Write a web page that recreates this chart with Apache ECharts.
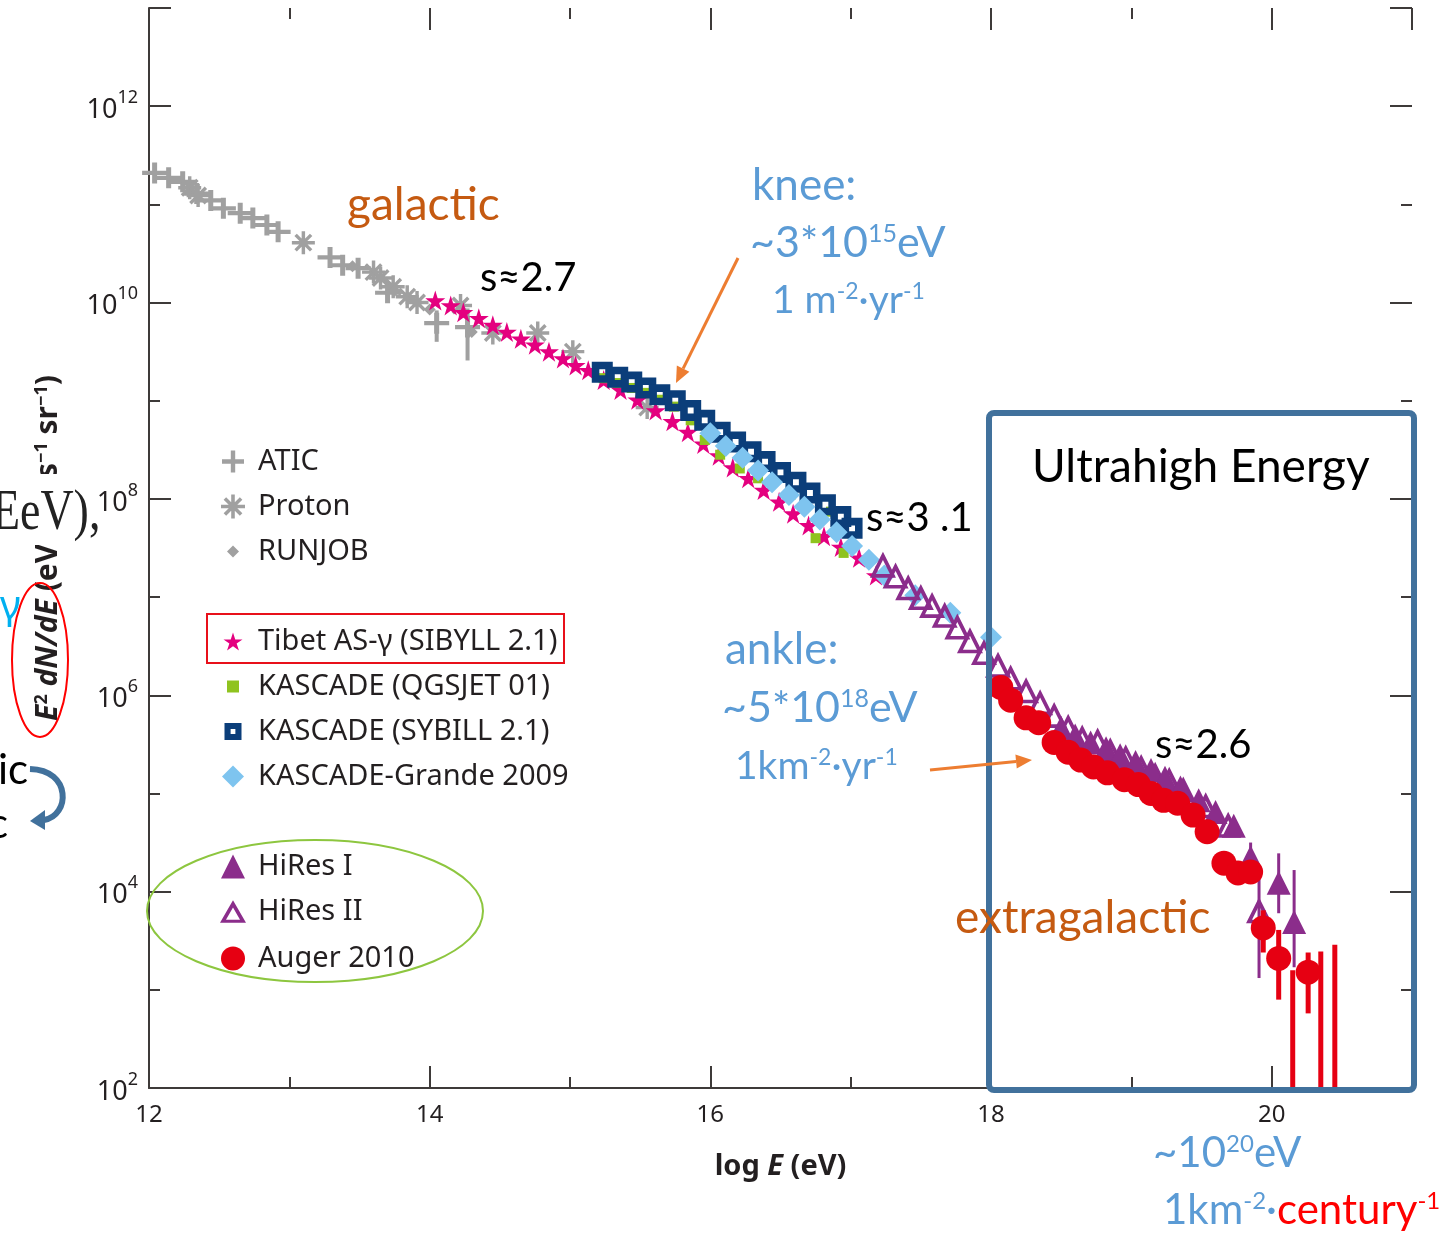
<!DOCTYPE html>
<html>
<head>
<meta charset="utf-8">
<title>Cosmic ray spectrum</title>
<script src="https://cdn.jsdelivr.net/npm/echarts@6/dist/echarts.min.js"></script>
<style>
  html, body { margin: 0; padding: 0; background: #fff; }
  #chart { width: 1455px; height: 1236px; }
</style>
</head>
<body>
<div id="chart"></div>
<script>
// log10 E (eV) and log10 of E^2 dN/dE
var aticE = [12.04, 12.14, 12.24, 12.34, 12.44, 12.53, 12.65, 12.74, 12.84, 12.92, 13.29, 13.38, 13.49, 13.70, 14.05, 14.27];
var aticF = [11.32, 11.27, 11.23, 11.11, 11.04, 10.96, 10.91, 10.86, 10.79, 10.72, 10.46, 10.38, 10.35, 10.10, 9.79, 9.75];
var protonE = [12.29, 12.35, 13.10, 13.60, 13.65, 13.74, 13.84, 13.91, 14.22, 14.45, 14.77, 15.02, 15.55];
var protonF = [11.17, 11.09, 10.61, 10.31, 10.25, 10.16, 10.06, 10.00, 9.97, 9.69, 9.69, 9.50, 8.93];
var runjobE = [13.45, 13.75, 14.00, 14.30];
var runjobF = [10.37, 10.12, 9.93, 9.70];
var tibetE = [14.04, 14.15, 14.24, 14.35, 14.45, 14.55, 14.65, 14.75, 14.85, 14.95, 15.04, 15.13, 15.24, 15.36, 15.48,
              15.61, 15.73, 15.84, 15.95, 16.06, 16.16, 16.27, 16.38, 16.49, 16.59, 16.70, 16.81, 16.93, 17.06, 17.18];
var tibetF = [10.02, 9.97, 9.90, 9.84, 9.77, 9.70, 9.63, 9.57, 9.50, 9.43, 9.36, 9.31, 9.21, 9.11, 9.01,
              8.90, 8.79, 8.68, 8.56, 8.44, 8.32, 8.21, 8.09, 7.97, 7.85, 7.73, 7.62, 7.51, 7.40, 7.22];
var qgsE = [15.24, 15.34, 15.44, 15.54, 15.64, 15.74, 15.86, 15.96, 16.07, 16.21, 16.34, 16.45, 16.57, 16.68, 16.75, 16.86, 16.95];
var qgsF = [9.23, 9.18, 9.13, 9.08, 9.01, 8.94, 8.80, 8.60, 8.45, 8.31, 8.21, 8.19, 8.04, 7.94, 7.60, 7.87, 7.45];
var sybE = [15.23, 15.34, 15.44, 15.54, 15.64, 15.75, 15.86, 15.96, 16.07, 16.18, 16.29, 16.39, 16.50, 16.61, 16.71, 16.82, 16.93, 17.01];
var sybF = [9.29, 9.24, 9.19, 9.13, 9.06, 9.00, 8.90, 8.80, 8.68, 8.58, 8.48, 8.38, 8.27, 8.17, 8.06, 7.94, 7.82, 7.70];
var grandeE = [16.00, 16.11, 16.23, 16.34, 16.44, 16.56, 16.67, 16.78, 16.90, 17.01, 17.13, 17.24, 17.46, 17.71, 18.00];
var grandeF = [8.67, 8.54, 8.42, 8.29, 8.17, 8.04, 7.92, 7.79, 7.66, 7.52, 7.38, 7.22, 7.02, 6.84, 6.59];
var hires1E = [18.50, 18.60, 18.71, 18.82, 18.92, 19.03, 19.14, 19.24, 19.35, 19.48, 19.60, 19.73, 19.85, 20.05, 20.16];
var hires1F = [5.67, 5.59, 5.52, 5.46, 5.39, 5.32, 5.24, 5.16, 5.06, 4.93, 4.81, 4.67, 4.35, 4.09, 3.69];
var hires2E = [17.23, 17.32, 17.41, 17.50, 17.58, 17.67, 17.76, 17.85, 17.95, 18.05, 18.14, 18.25, 18.35, 18.45, 18.55,
               18.65, 18.76, 18.85, 18.96, 19.07, 19.17, 19.27, 19.37, 19.53, 19.69, 19.91];
var hires2F = [7.33, 7.22, 7.10, 7.00, 6.92, 6.82, 6.70, 6.56, 6.44, 6.31, 6.18, 6.05, 5.93, 5.80, 5.68,
               5.57, 5.54, 5.44, 5.37, 5.27, 5.19, 5.14, 5.04, 4.88, 4.68, 3.81];
var augerE = [18.07, 18.14, 18.25, 18.34, 18.45, 18.55, 18.64, 18.73, 18.83, 18.95, 19.05, 19.14, 19.23, 19.33, 19.44,
              19.54, 19.66, 19.76, 19.85, 19.94, 20.05, 20.26];
var augerF = [6.08, 5.95, 5.77, 5.72, 5.52, 5.42, 5.34, 5.27, 5.21, 5.14, 5.09, 5.00, 4.93, 4.90, 4.78,
              4.61, 4.29, 4.19, 4.20, 3.63, 3.32, 3.18];
// error bars: [logE, low, high, cap]
var aticErr = [[14.05, 9.60, 9.92], [14.27, 9.41, 9.94]];
var hiresErr = [[19.85, 4.12, 4.50], [20.05, 3.78, 4.39], [20.16, 3.23, 4.22], [19.91, 3.12, 4.17]];
var augerErr = [[19.94, 3.38, 3.81], [20.05, 2.90, 3.61], [20.26, 2.76, 3.38],
                [20.15, 1.5, 3.20, 1], [20.35, 1.5, 3.39, 1], [20.45, 1.5, 3.46, 1]];

var names = ['ATIC', 'Proton', 'RUNJOB', 'Tibet AS-\u03b3 (SIBYLL 2.1)', 'KASCADE (QGSJET 01)',
             'KASCADE (SYBILL 2.1)', 'KASCADE-Grande 2009', 'HiRes I', 'HiRes II', 'Auger 2010'];

var PLUS = 'path://M8,0H12V8H20V12H12V20H8V12H0V8H8Z';
var ASTER = 'path://M0,8.5H20V11.5H0Z M8.5,0H11.5V20H8.5Z M2.2,4.3L4.3,2.2L17.8,15.7L15.7,17.8Z M15.7,2.2L17.8,4.3L4.3,17.8L2.2,15.7Z';
var STAR = 'path://M10,0L12.35,7.2L19.9,7.2L13.8,11.6L16.2,18.8L10,14.4L3.8,18.8L6.2,11.6L0.1,7.2L7.65,7.2Z';
var OPEN_SQ = 'path://M0,0H10V10H0Z M3.6,3.6V6.4H6.4V3.6Z';
var OPEN_TRI = 'path://M10,0L20,17.3L0,17.3Z M10,5.6L4.6,14.9L15.4,14.9Z';

var axisColor = '#3e3a39', textColor = '#231f20', chartFont = 'Noto Sans';
var blue = '#5b9bd5', orange = '#c55a11', annFont = 'Lato';

function zip(a, b) {
    return a.map(function (v, i) { return [v, b[i]]; });
}

function scatter(name, xs, ys, symbol, size, color, z) {
    return {
        type: 'scatter', name: name, data: zip(xs, ys),
        symbol: symbol, symbolSize: size, z: z,
        itemStyle: { color: color, opacity: 1 }
    };
}

function errorBars(rows, color, width, z) {
    return {
        type: 'custom', data: rows, z: z, clip: true,
        encode: { x: 0, y: [1, 2] },
        renderItem: function (params, api) {
            var top = api.coord([api.value(0), api.value(2)]);
            var bot = api.coord([api.value(0), api.value(1)]);
            var kids = [{
                type: 'line', shape: { x1: top[0], y1: top[1], x2: bot[0], y2: bot[1] },
                style: { stroke: color, lineWidth: width }
            }];
            if (api.value(3) === 1) {
                kids.push({
                    type: 'line', shape: { x1: top[0] - 6, y1: top[1], x2: top[0] + 6, y2: top[1] },
                    style: { stroke: color, lineWidth: width }
                });
            }
            return { type: 'group', children: kids };
        }
    };
}

// one legend per row so every icon keeps its own size
function legendRow(name, cy, size) {
    return {
        data: [name], orient: 'vertical', left: 228 - size / 2, top: cy - 18,
        itemWidth: size, itemHeight: size, selectedMode: false,
        textStyle: { fontSize: 29, fontFamily: chartFont, color: textColor, padding: [0, 0, 0, 20 - size / 2] }
    };
}

// rich annotation text; tokens: n normal, s superscript, r red, rs red superscript
function note(x, y, text, size, color) {
    var sup = Math.round(size * 0.58);
    return {
        type: 'text', x: x, y: y, z: 60,
        style: {
            text: text, verticalAlign: 'middle',
            rich: {
                n: { fontSize: size, fontFamily: annFont, fill: color, verticalAlign: 'bottom' },
                s: { fontSize: sup, fontFamily: annFont, fill: color, verticalAlign: 'top' },
                r: { fontSize: size, fontFamily: annFont, fill: '#ff0000', verticalAlign: 'bottom' },
                rs: { fontSize: sup, fontFamily: annFont, fill: '#ff0000', verticalAlign: 'top' }
            }
        }
    };
}

function arrow(x1, y1, x2, y2) {
    var a = Math.atan2(y2 - y1, x2 - x1), L = 16, W = 7;
    var bx = x2 - L * Math.cos(a), by = y2 - L * Math.sin(a);
    return [
        { type: 'line', z: 60, shape: { x1: x1, y1: y1, x2: bx, y2: by }, style: { stroke: '#ed7d31', lineWidth: 3 } },
        { type: 'polygon', z: 60, shape: { points: [[x2, y2],
            [bx + W * Math.sin(a), by - W * Math.cos(a)], [bx - W * Math.sin(a), by + W * Math.cos(a)]] },
          style: { fill: '#ed7d31' } }
    ];
}

function xAxis(pos, interval, len, labels) {
    return {
        type: 'value', position: pos, min: 12, max: 21, interval: interval,
        axisLine: { show: labels !== null, lineStyle: { color: axisColor, width: 2 } },
        axisTick: { show: true, inside: true, length: len, lineStyle: { color: axisColor, width: 2 } },
        splitLine: { show: false },
        axisLabel: labels ? labels : { show: false }
    };
}

function yAxis(pos, interval, len, labels) {
    return {
        type: 'value', position: pos, min: 2, max: 13, interval: interval,
        axisLine: { show: labels !== null, lineStyle: { color: axisColor, width: 2 } },
        axisTick: { show: true, inside: true, length: len, lineStyle: { color: axisColor, width: 2 } },
        splitLine: { show: false },
        axisLabel: labels ? labels : { show: false }
    };
}

var xLabels = {
    show: true, margin: 15, interval: 0, fontSize: 24, fontFamily: chartFont, color: textColor,
    formatter: function (v) { return v % 2 === 0 && v <= 20 ? String(v) : ''; }
};
var yLabels = {
    show: true, margin: 11, interval: 0, color: textColor,
    formatter: function (v) { return v % 2 === 0 && v <= 12 ? '{b|10}{s|' + v + '}' : ''; },
    rich: {
        b: { fontSize: 27, fontFamily: chartFont, color: textColor, verticalAlign: 'bottom', padding: [8, 0, 0, 0] },
        s: { fontSize: 18, fontFamily: chartFont, color: textColor, verticalAlign: 'top' }
    }
};

var xMain = xAxis('bottom', 2, 22, xLabels);
xMain.name = '{b|log }{i|E}{b| (eV)}';
xMain.nameLocation = 'middle';
xMain.nameGap = 64;
xMain.nameTextStyle = {
    rich: {
        b: { fontSize: 29, fontWeight: 'bold', fontFamily: chartFont, color: textColor },
        i: { fontSize: 29, fontWeight: 'bold', fontStyle: 'italic', fontFamily: chartFont, color: textColor }
    }
};

var yMain = yAxis('left', 2, 22, yLabels);
yMain.name = '{i|E}{s|2}{b| }{i|dN/dE}{b| (eV m}{s|\u22122}{b| s}{s|\u22121}{b| sr}{s|\u22121}{b|)}';
yMain.nameLocation = 'middle';
yMain.nameRotate = 90;
yMain.nameGap = 86;
yMain.nameTextStyle = {
    rich: {
        b: { fontSize: 30, fontWeight: 'bold', fontFamily: chartFont, color: textColor, verticalAlign: 'bottom' },
        i: { fontSize: 30, fontWeight: 'bold', fontStyle: 'italic', fontFamily: chartFont, color: textColor, verticalAlign: 'bottom' },
        s: { fontSize: 18, fontWeight: 'bold', fontFamily: chartFont, color: textColor, verticalAlign: 'top' }
    }
};

var graphics = [
    // ultrahigh energy box
    { type: 'rect', z: 55, shape: { x: 989, y: 413, width: 425, height: 677, r: 5 },
      style: { fill: 'none', stroke: '#41719c', lineWidth: 6 } },
    { type: 'rect', z: 55, shape: { x: 207, y: 614, width: 357, height: 49 },
      style: { fill: 'none', stroke: '#e8101a', lineWidth: 2 } },
    { type: 'ellipse', z: 55, shape: { cx: 315, cy: 911, rx: 168, ry: 71 },
      style: { fill: 'none', stroke: '#8dc63f', lineWidth: 2 } },
    // cut-off slide text on the left
    { type: 'rect', z: 56, shape: { x: 0, y: 474, width: 96, height: 71 }, style: { fill: '#fff' } },
    { type: 'text', z: 57, x: -8, y: 514, scaleX: 0.82,
      style: { text: 'EeV),', fontSize: 56, fontFamily: 'Liberation Serif', fill: '#222', verticalAlign: 'middle' } },
    { type: 'ellipse', z: 57, shape: { cx: 40, cy: 660, rx: 28, ry: 77 },
      style: { fill: 'none', stroke: '#ff0000', lineWidth: 2 } },
    { type: 'text', z: 57, x: 0, y: 608,
      style: { text: '\u03b3', fontSize: 40, fontFamily: chartFont, fill: '#00b0f0', verticalAlign: 'middle' } },
    { type: 'text', z: 57, x: -2, y: 770,
      style: { text: 'ic', fontSize: 42, fontFamily: annFont, fill: '#000', verticalAlign: 'middle' } },
    { type: 'text', z: 57, x: -12, y: 824,
      style: { text: 'c', fontSize: 42, fontFamily: annFont, fill: '#000', verticalAlign: 'middle' } },
    { type: 'bezierCurve', z: 57, shape: { x1: 30, y1: 769, cpx1: 72, cpy1: 770, cpx2: 70, cpy2: 816, x2: 44, y2: 820 },
      style: { stroke: '#41719c', lineWidth: 6, fill: 'none' } },
    { type: 'polygon', z: 57, shape: { points: [[30, 821], [45, 810], [45, 830]] }, style: { fill: '#41719c' } },
    // annotations
    note(347, 205, '{n|galactic}', 46, orange),
    note(480, 278, '{n|s\u22482.7}', 40, '#000'),
    note(752, 186, '{n|knee:}', 44, blue),
    note(750, 243, '{n|~3*10}{s|15}{n|eV}', 43, blue),
    note(772, 300, '{n|1 m}{s|-2}{n|\u00b7yr}{s|-1}', 39, blue),
    note(866, 518, '{n|s\u22483 .1}', 40, '#000'),
    note(725, 650, '{n|ankle:}', 44, blue),
    note(722, 708, '{n|~5*10}{s|18}{n|eV}', 43, blue),
    note(735, 766, '{n|1km}{s|-2}{n|\u00b7yr}{s|-1}', 39, blue),
    note(1155, 745, '{n|s\u22482.6}', 40, '#000'),
    note(955, 918, '{n|extragalactic}', 46, orange),
    note(1032, 467, '{n|Ultrahigh Energy}', 46, '#000'),
    note(1153, 1153, '{n|~10}{s|20}{n|eV}', 42, blue),
    note(1163, 1210, '{n|1km}{s|-2}{n|\u00b7}{r|century}{rs|-1}', 42, blue)
].concat(arrow(738, 258, 676, 383), arrow(930, 770, 1032, 760));

var chart = echarts.init(document.getElementById('chart'), null, { renderer: 'canvas' });
chart.setOption({
    animation: false,
    backgroundColor: '#fff',
    grid: { left: 149, right: 43, top: 8, bottom: 148, outerBoundsMode: 'none' },
    xAxis: [xMain, xAxis('bottom', 1, 11, null), xAxis('top', 2, 22, null), xAxis('top', 1, 11, null)],
    yAxis: [yMain, yAxis('left', 1, 11, null), yAxis('right', 2, 22, null), yAxis('right', 1, 11, null)],
    legend: [
        legendRow(names[0], 460, 22), legendRow(names[1], 505, 24), legendRow(names[2], 550, 12),
        legendRow(names[3], 640, 19), legendRow(names[4], 685, 12), legendRow(names[5], 730, 17),
        legendRow(names[6], 775, 22), legendRow(names[7], 865, 24), legendRow(names[8], 910, 26),
        legendRow(names[9], 957, 24)
    ],
    series: [
        errorBars(aticErr, '#a0a0a0', 4, 2),
        scatter(names[0], aticE, aticF, PLUS, [25, 21], '#a0a0a0', 2),
        scatter(names[1], protonE, protonF, ASTER, 23, '#a0a0a0', 2),
        scatter(names[2], runjobE, runjobF, 'diamond', 12, '#a0a0a0', 2),
        scatter(names[3], tibetE, tibetF, STAR, 20, '#e4007f', 3),
        scatter(names[4], qgsE, qgsF, 'rect', 10, '#8fc31f', 4),
        scatter(names[5], sybE, sybF, OPEN_SQ, 21, '#0b3e7a', 4),
        scatter(names[6], grandeE, grandeF, 'diamond', 22, '#7ec4ef', 5),
        errorBars(hiresErr, '#8b2d8b', 3, 6),
        scatter(names[8], hires2E, hires2F, OPEN_TRI, 26, '#8b2d8b', 6),
        scatter(names[7], hires1E, hires1F, 'triangle', 24, '#8b2d8b', 6),
        errorBars(augerErr, '#e60012', 5, 7),
        scatter(names[9], augerE, augerF, 'circle', 25, '#e60012', 7)
    ],
    graphic: graphics
});
</script>
</body>
</html>
